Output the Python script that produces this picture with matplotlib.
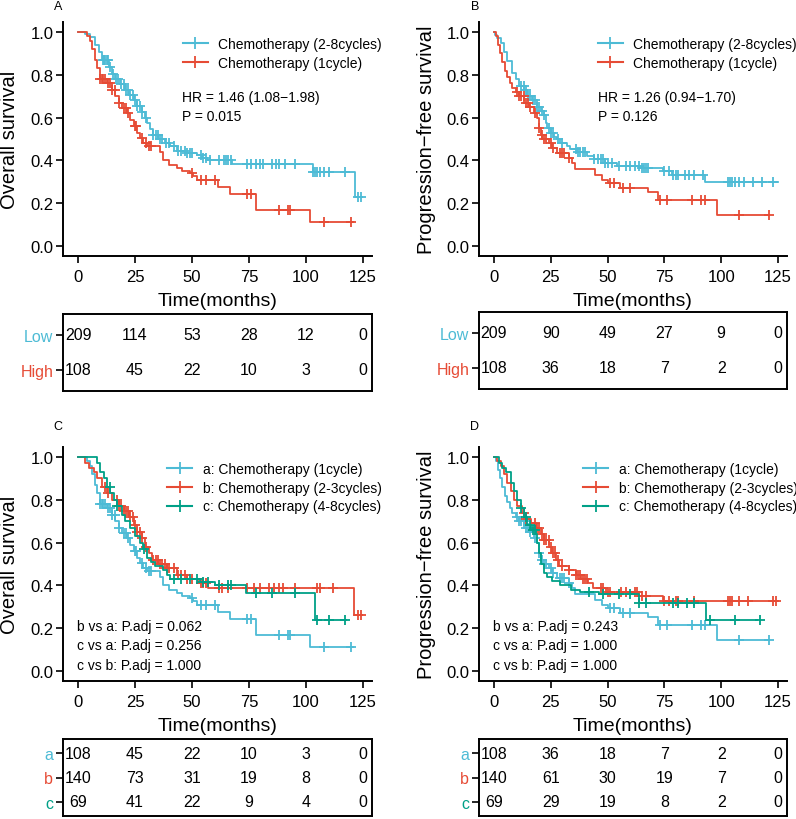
import numpy as np
import matplotlib
matplotlib.use("Agg")
import matplotlib.pyplot as plt
from matplotlib.lines import Line2D

plt.rcParams['font.family'] = ['Liberation Sans', 'DejaVu Sans']

BLUE = '#4DBBD5'
RED = '#E64B35'
GREEN = '#00A087'

# ---- survival curves: step times / survival after each step / end of follow-up / censor times
# overall survival, 2-8 cycles
os_28_t = [0, 3, 5.4, 7.6, 9, 10.5, 13.4, 14.9, 16.3, 18.5, 20.7, 22.2, 24.4, 25.8, 28, 29.5, 30.2,
           31.7, 33, 35.3, 38.2, 40.4, 43.3, 47.7, 52, 54.5, 56.4, 67.4, 103, 121.4]
os_28_s = [1.0, 0.99, 0.975, 0.94, 0.905, 0.87, 0.835, 0.805, 0.78, 0.755, 0.73, 0.705, 0.68, 0.655,
           0.625, 0.60, 0.575, 0.545, 0.52, 0.50, 0.48, 0.465, 0.445, 0.435, 0.425, 0.41, 0.40, 0.385,
           0.345, 0.228]
os_28_end = 124.5
os_28_c = [11, 11.5, 12, 12.5, 13, 14, 15.5, 16.5, 17.5, 19, 20, 21, 22, 23, 24, 25, 26, 27, 28, 30,
           33, 34, 35, 36, 37, 38.5, 40, 42, 44, 45, 47, 48, 49, 50, 54, 55, 56, 58, 62, 64, 65, 66,
           67, 74, 76, 78, 80, 81, 85, 87, 88, 91, 95, 103, 104, 105, 106, 108, 110, 117, 123, 124]

# overall survival, 1 cycle
os_1_t = [0, 4, 5.1, 6.1, 7.6, 8.3, 9.5, 12.7, 14.9, 16.3, 17.8, 19.3, 21.5, 23, 24.4, 25.8, 27.3,
          28.7, 30.2, 36, 37.5, 39.7, 43.3, 45.5, 49.2, 50.6, 52, 61.5, 66.7, 78.3, 101.7]
os_1_s = [1.0, 0.98, 0.96, 0.92, 0.87, 0.83, 0.78, 0.76, 0.73, 0.70, 0.67, 0.645, 0.62, 0.59, 0.56,
          0.53, 0.505, 0.48, 0.465, 0.44, 0.40, 0.38, 0.365, 0.35, 0.34, 0.325, 0.31, 0.275, 0.245,
          0.17, 0.11]
os_1_end = 120.6
os_1_c = [9.5, 10.5, 11, 12, 13, 14, 15, 16, 18, 20, 21, 22, 25, 25.5, 28, 30, 31, 32, 50, 54, 56,
          60, 74, 76, 88, 92, 93, 108, 120]

# overall survival, 2-3 cycles
os_23_t = [0, 3.2, 4.7, 6.9, 8.3, 10.5, 12.7, 14.9, 17.8, 20, 22.2, 24.4, 25.8, 28, 29.5, 31, 32.4,
           35.3, 38.9, 43.3, 47.7, 52.8, 57.2, 121]
os_23_s = [1.0, 0.97, 0.95, 0.93, 0.90, 0.86, 0.83, 0.80, 0.77, 0.75, 0.72, 0.68, 0.65, 0.62, 0.58,
           0.55, 0.52, 0.50, 0.48, 0.45, 0.43, 0.41, 0.39, 0.26]
os_23_end = 124.5
os_23_c = [12, 13, 17, 18, 19, 20, 21, 22, 23, 24, 25, 26, 27, 28, 30, 33, 34, 35, 36, 37, 38, 39,
           40, 42, 44, 45, 47, 48, 50, 54, 55, 56, 62, 63, 66, 74, 77, 80, 84, 86, 88, 90, 95, 105,
           106, 112, 123, 124]

# overall survival, 4-8 cycles
os_48_t = [0, 8.3, 9.8, 11.2, 12.7, 14.1, 15.6, 17, 19.3, 20.7, 22.9, 25, 27.3, 28.7, 30.2, 32,
           33.8, 37.5, 38.9, 40.4, 53.5, 60, 73.9, 104]
os_48_s = [1.0, 0.97, 0.93, 0.90, 0.86, 0.83, 0.80, 0.77, 0.73, 0.70, 0.67, 0.63, 0.60, 0.57, 0.53,
           0.51, 0.49, 0.47, 0.45, 0.43, 0.415, 0.40, 0.365, 0.24]
os_48_end = 117.7
os_48_c = [14, 17, 29, 42, 45, 49, 52, 55, 57, 62, 66, 67, 78, 85, 95, 105, 110, 117]

# progression-free survival, 2-8 cycles
pfs_28_t = [0, 0.4, 1.5, 2.9, 4.4, 5.8, 8, 9.5, 11, 13.2, 14.6, 16.8, 19, 20.5, 21.9, 22.7, 23.4,
            24.9, 26.3, 27.8, 29.2, 32.2, 33.6, 36.5, 40.9, 43.9, 49, 54, 64.3, 74.6, 78.2, 92.8]
pfs_28_s = [1.0, 0.985, 0.97, 0.95, 0.905, 0.865, 0.81, 0.78, 0.75, 0.73, 0.70, 0.68, 0.65, 0.63,
            0.61, 0.575, 0.55, 0.53, 0.51, 0.50, 0.48, 0.465, 0.455, 0.44, 0.42, 0.405, 0.39, 0.375,
            0.365, 0.35, 0.333, 0.30]
pfs_28_end = 125
pfs_28_c = [12, 13, 14, 15, 16, 17, 18, 19, 20, 21, 22, 24, 25, 26, 28, 30, 36, 37, 38, 39, 40, 44,
            46, 47, 48, 49, 50, 52, 55, 58, 60, 62, 64, 65, 66, 67, 68, 75, 77, 79, 80, 81, 84, 86,
            88, 92, 103, 104, 105, 106, 108, 110, 114, 118, 123]

# progression-free survival, 1 cycle
pfs_1_t = [0, 0.7, 1.8, 2.6, 3.7, 4.7, 5.8, 7, 8, 9.5, 11, 13.2, 15.4, 17.5, 19, 19.7, 20.5, 21.2,
           24, 25.6, 27.8, 32.9, 34.4, 35.8, 44.6, 47.5, 50.4, 55.6, 68, 72.4, 98]
pfs_1_s = [1.0, 0.98, 0.94, 0.90, 0.86, 0.82, 0.79, 0.76, 0.74, 0.72, 0.70, 0.67, 0.65, 0.62, 0.60,
           0.55, 0.52, 0.50, 0.48, 0.46, 0.435, 0.41, 0.39, 0.36, 0.333, 0.31, 0.294, 0.27, 0.25,
           0.215, 0.145]
pfs_1_end = 120.5
pfs_1_c = [10, 11, 12, 13, 14, 15, 16, 18, 20, 21, 22, 23, 25, 26, 29, 30, 31, 33, 51, 53, 57, 60,
           73, 76, 87, 91, 93, 108, 121]

# progression-free survival, 2-3 cycles
pfs_23_t = [0, 1.5, 2.9, 4.4, 5.9, 7.4, 8.8, 10.3, 12.5, 14, 16.2, 18.4, 20.6, 22, 24.3, 25.7, 27.2,
            28.7, 33, 36, 38.2, 41.2, 43.4, 49.3, 64, 74.3]
pfs_23_s = [1.0, 0.98, 0.96, 0.92, 0.88, 0.84, 0.80, 0.77, 0.74, 0.71, 0.69, 0.67, 0.64, 0.61, 0.58,
            0.55, 0.52, 0.49, 0.47, 0.45, 0.43, 0.41, 0.39, 0.368, 0.35, 0.327]
pfs_23_end = 125
pfs_23_c = [13, 14, 18, 19, 20, 21, 22, 23, 24, 25, 26, 27, 28, 30, 33, 36, 37, 38, 39, 40, 41, 47,
            48, 50, 51, 56, 58, 62, 63, 65, 67, 75, 77, 80, 81, 88, 103, 104, 105, 108, 112, 123, 124]

# progression-free survival, 4-8 cycles
pfs_48_t = [0, 2.2, 3.6, 5.1, 7.4, 8.8, 10.3, 11.8, 13.2, 14.7, 16.5, 18.4, 19.1, 19.8, 20.6, 22,
            23.5, 25.7, 29, 33.8, 38, 46.3, 64, 93.4]
pfs_48_s = [1.0, 0.97, 0.95, 0.93, 0.88, 0.84, 0.80, 0.76, 0.72, 0.68, 0.66, 0.64, 0.60, 0.55, 0.50,
            0.46, 0.44, 0.42, 0.40, 0.38, 0.37, 0.36, 0.32, 0.24]
pfs_48_end = 116
pfs_48_c = [12, 14, 16, 17, 18, 42, 48, 55, 60, 64, 67, 79, 81, 85, 88, 95, 106, 117]

# ---- numbers at risk
risk_times = [0, 25, 50, 75, 100, 125]
risk_A = [[209, 114, 53, 28, 12, 0], [108, 45, 22, 10, 3, 0]]
risk_B = [[209, 90, 49, 27, 9, 0], [108, 36, 18, 7, 2, 0]]
risk_C = [[108, 45, 22, 10, 3, 0], [140, 73, 31, 19, 8, 0], [69, 41, 22, 9, 4, 0]]
risk_D = [[108, 36, 18, 7, 2, 0], [140, 61, 30, 19, 7, 0], [69, 29, 19, 8, 2, 0]]

labels_2 = ['Chemotherapy (2-8cycles)', 'Chemotherapy (1cycle)']
labels_3 = ['a: Chemotherapy (1cycle)', 'b: Chemotherapy (2-3cycles)', 'c: Chemotherapy (4-8cycles)']
rows_2 = ['Low', 'High']
rows_3 = ['a', 'b', 'c']

W, H = 796, 820
fig = plt.figure(figsize=(W / 100, H / 100), dpi=100)

XLIM = (-6.6, 129)
YLIM = (-0.047, 1.047)


def px_axes(left, top, right, bottom):
    return fig.add_axes([left / W, 1 - bottom / H, (right - left) / W, (bottom - top) / H])


def km(ax, t, s, end, cens, color):
    t = np.asarray(t, float)
    s = np.asarray(s, float)
    ax.step(np.append(t, end), np.append(s, s[-1]), where='post', color=color, lw=1.3)
    c = np.asarray(cens, float)
    idx = np.searchsorted(t, c, side='right') - 1
    ax.plot(c, s[idx], ls='none', marker='+', color=color, ms=7.5, mew=1.3)


def style_main(ax, ylabel):
    ax.set_xlim(*XLIM)
    ax.set_ylim(*YLIM)
    ax.set_xticks([0, 25, 50, 75, 100, 125])
    ax.set_yticks([0, 0.2, 0.4, 0.6, 0.8, 1.0])
    ax.set_yticklabels(['0.0', '0.2', '0.4', '0.6', '0.8', '1.0'])
    for sp in ['top', 'right']:
        ax.spines[sp].set_visible(False)
    for sp in ['left', 'bottom']:
        ax.spines[sp].set_linewidth(1.4)
    ax.tick_params(length=5, width=1.2, labelsize=12)
    ax.tick_params(axis='x', pad=4.5)
    ax.tick_params(axis='y', pad=2)
    ax.set_ylabel(ylabel, fontsize=14.5)
    ax.yaxis.set_label_coords(-0.172, 0.5)
    ax.set_xlabel('Time(months)', fontsize=14)
    ax.xaxis.set_label_coords(0.5, -0.19)
    ax.xaxis.label.set_va('center')
    ax.yaxis.label.set_va('center')


def legend(ax, labels, colors, x0):
    handles = [Line2D([], [], color=c, lw=1.5, marker='+', ms=8, mew=1.3) for c in colors]
    ax.legend(handles, labels, loc='upper left', bbox_to_anchor=(x0, 0.937), frameon=False,
              fontsize=10, handlelength=1.8, handletextpad=0.75, labelspacing=0.35,
              borderpad=0, borderaxespad=0)


def table(ax, rows, names, colors):
    n = len(rows)
    ax.set_xlim(*XLIM)
    ax.set_ylim(0.4, n + 0.6)
    for i, vals in enumerate(rows):
        for x, v in zip(risk_times, vals):
            ax.text(x, n - i, str(v), ha='center', va='center', fontsize=11.5)
    ax.set_xticks([])
    ax.set_yticks([n - i for i in range(n)])
    ax.set_yticklabels(names, fontsize=11.5)
    for lab, c in zip(ax.get_yticklabels(), colors):
        lab.set_color(c)
    ax.tick_params(axis='y', length=5, width=1.2, pad=2)
    for sp in ax.spines.values():
        sp.set_linewidth(1.4)


# ---- panel A
axA = px_axes(63, 23, 372, 257)
km(axA, os_28_t, os_28_s, os_28_end, os_28_c, BLUE)
km(axA, os_1_t, os_1_s, os_1_end, os_1_c, RED)
style_main(axA, 'Overall survival')
legend(axA, labels_2, [BLUE, RED], 0.388)
axA.text(0.385, 0.679, 'HR = 1.46 (1.08\u22121.98)', transform=axA.transAxes, fontsize=10, va='center')
axA.text(0.385, 0.598, 'P = 0.015', transform=axA.transAxes, fontsize=10, va='center')
tA = px_axes(63, 315, 372, 392)
table(tA, risk_A, rows_2, [BLUE, RED])

# ---- panel B
axB = px_axes(479, 23, 787, 257)
km(axB, pfs_28_t, pfs_28_s, pfs_28_end, pfs_28_c, BLUE)
km(axB, pfs_1_t, pfs_1_s, pfs_1_end, pfs_1_c, RED)
style_main(axB, 'Progression\u2212free survival')
legend(axB, labels_2, [BLUE, RED], 0.386)
axB.text(0.386, 0.679, 'HR = 1.26 (0.94\u22121.70)', transform=axB.transAxes, fontsize=10, va='center')
axB.text(0.386, 0.598, 'P = 0.126', transform=axB.transAxes, fontsize=10, va='center')
tB = px_axes(479, 313, 787, 390)
table(tB, risk_B, rows_2, [BLUE, RED])

# ---- panel C
axC = px_axes(63, 448, 372, 682)
km(axC, os_1_t, os_1_s, os_1_end, os_1_c, BLUE)
km(axC, os_23_t, os_23_s, os_23_end, os_23_c, RED)
km(axC, os_48_t, os_48_s, os_48_end, os_48_c, GREEN)
style_main(axC, 'Overall survival')
legend(axC, labels_3, [BLUE, RED, GREEN], 0.337)
for y, txt in zip([0.235, 0.154, 0.068], ['b vs a: P.adj = 0.062', 'c vs a: P.adj = 0.256',
                                          'c vs b: P.adj = 1.000']):
    axC.text(0.045, y, txt, transform=axC.transAxes, fontsize=10, va='center')
tC = px_axes(63, 740, 372, 817)
table(tC, risk_C, rows_3, [BLUE, RED, GREEN])

# ---- panel D
axD = px_axes(479, 448, 787, 682)
km(axD, pfs_1_t, pfs_1_s, pfs_1_end, pfs_1_c, BLUE)
km(axD, pfs_23_t, pfs_23_s, pfs_23_end, pfs_23_c, RED)
km(axD, pfs_48_t, pfs_48_s, pfs_48_end, pfs_48_c, GREEN)
style_main(axD, 'Progression\u2212free survival')
legend(axD, labels_3, [BLUE, RED, GREEN], 0.338)
for y, txt in zip([0.235, 0.154, 0.068], ['b vs a: P.adj = 0.243', 'c vs a: P.adj = 1.000',
                                          'c vs b: P.adj = 1.000']):
    axD.text(0.045, y, txt, transform=axD.transAxes, fontsize=10, va='center')
tD = px_axes(479, 740, 787, 817)
table(tD, risk_D, rows_3, [BLUE, RED, GREEN])

# panel letters
for x, y, s in [(58, 7, 'A'), (475, 7, 'B'), (58, 427, 'C'), (475, 427, 'D')]:
    fig.text(x / W, 1 - y / H, s, fontsize=9, ha='center', va='center')

fig.savefig('out.png', dpi=100)
